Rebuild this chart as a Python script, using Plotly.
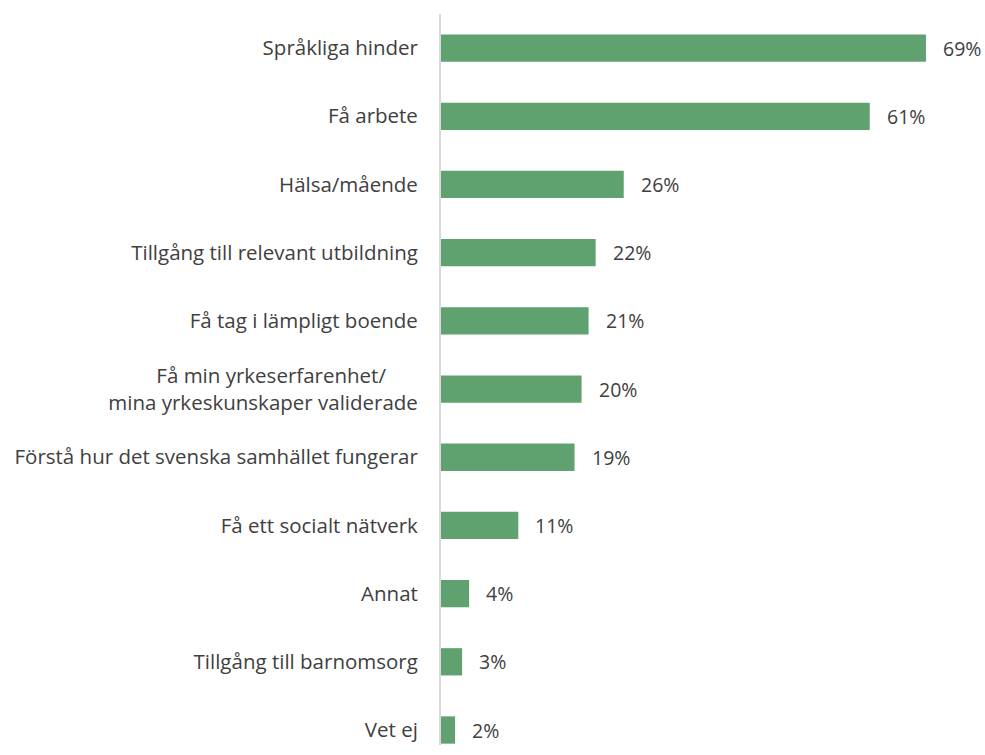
import plotly.graph_objects as go

categories = [
    "Språkliga hinder",
    "Få arbete",
    "Hälsa/mående",
    "Tillgång till relevant utbildning",
    "Få tag i lämpligt boende",
    "Få min yrkeserfarenhet/" + "\u00a0" * 6 + "<br>mina yrkeskunskaper validerade",
    "Förstå hur det svenska samhället fungerar",
    "Få ett socialt nätverk",
    "Annat",
    "Tillgång till barnomsorg",
    "Vet ej",
]
values = [69, 61, 26, 22, 21, 20, 19, 11, 4, 3, 2]

FONT = "Open Sans"
TXT = "#404040"
FS = 20.5
FSV = 19.5

fig = go.Figure(go.Bar(
    x=values, y=categories, orientation="h",
    marker=dict(color="#5FA270", line=dict(width=0)),
    width=0.4, hoverinfo="skip",
))

for c, v in zip(categories, values):
    fig.add_annotation(x=v, y=c, text=f"{v}%", showarrow=False,
                       xanchor="left", xshift=15,
                       font=dict(family=FONT, size=FSV, color=TXT))

fig.update_layout(
    width=985, height=755,
    margin=dict(l=441, r=0, t=14, b=10),
    plot_bgcolor="white", paper_bgcolor="white",
    showlegend=False,
    font=dict(family=FONT, size=FS, color=TXT),
    xaxis=dict(range=[0, 77.4], visible=False, automargin=False),
    yaxis=dict(range=[10.22, -0.5], showline=True, linecolor="#D9D9D9",
               linewidth=2, showgrid=False, zeroline=False, ticks="",
               automargin=False,
               ticklabelstandoff=17, tickfont=dict(family=FONT, size=FS, color=TXT)),
)

fig.write_html(
    "out.html",
    config={"displayModeBar": False},
    post_script="document.body.style.margin='0';document.body.style.overflow='hidden';",
)
